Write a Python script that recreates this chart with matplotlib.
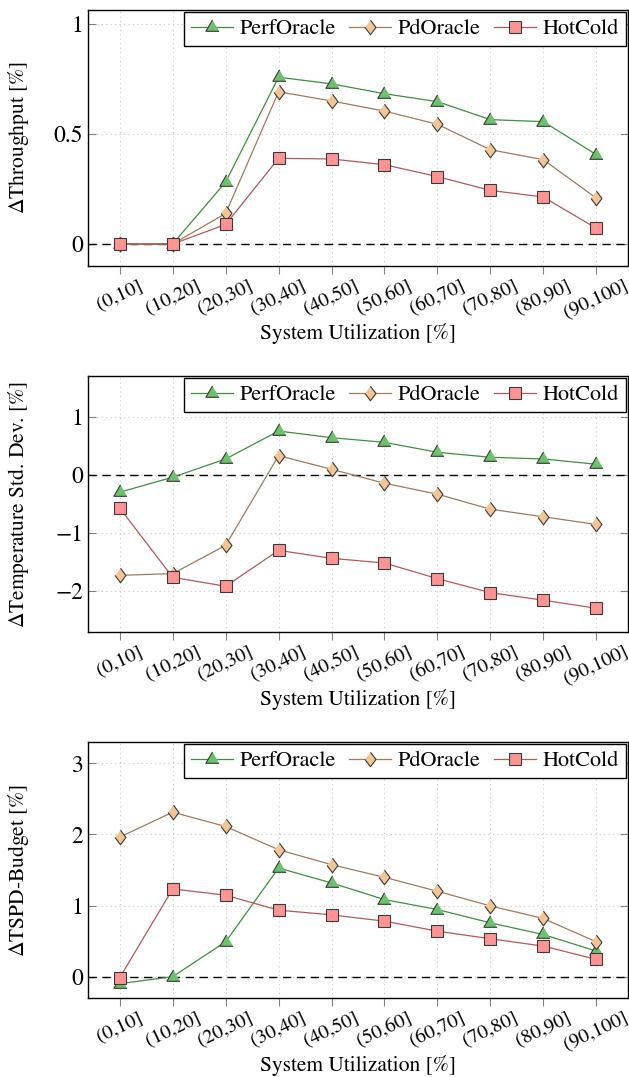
import numpy as np
import matplotlib
matplotlib.use("Agg")
import matplotlib.pyplot as plt

plt.rcParams['font.family'] = ['STIXGeneral', 'DejaVu Serif']
plt.rcParams['mathtext.fontset'] = 'stix'

categories = ['(0,10]', '(10,20]', '(20,30]', '(30,40]', '(40,50]',
              '(50,60]', '(60,70]', '(70,80]', '(80,90]', '(90,100]']

# Throughput
thr_perf = [0.0, 0.0, 0.282, 0.759, 0.729, 0.684, 0.648, 0.566, 0.557, 0.407]
thr_pd = [0.0, 0.0, 0.139, 0.693, 0.651, 0.605, 0.545, 0.429, 0.384, 0.209]
thr_hc = [0.0, 0.0, 0.089, 0.390, 0.387, 0.361, 0.307, 0.244, 0.214, 0.072]

# Temperature std. dev.
tmp_perf = [-0.297, -0.04, 0.274, 0.754, 0.640, 0.560, 0.389, 0.303, 0.274, 0.183]
tmp_pd = [-1.726, -1.697, -1.211, 0.331, 0.097, -0.143, -0.331, -0.589, -0.720, -0.851]
tmp_hc = [-0.571, -1.760, -1.914, -1.297, -1.434, -1.514, -1.783, -2.023, -2.154, -2.291]

# TSPD budget
tspd_perf = [-0.098, 0.0, 0.490, 1.528, 1.318, 1.084, 0.944, 0.757, 0.593, 0.360]
tspd_pd = [1.963, 2.313, 2.112, 1.785, 1.575, 1.397, 1.201, 0.995, 0.818, 0.490]
tspd_hc = [-0.014, 1.234, 1.145, 0.935, 0.869, 0.780, 0.640, 0.533, 0.430, 0.243]

panels = [
    (r'$\Delta$Throughput [%]', thr_perf, thr_pd, thr_hc, (-0.1, 1.065), [0, 0.5, 1], ['0', '0.5', '1']),
    (r'$\Delta$Temperature Std. Dev. [%]', tmp_perf, tmp_pd, tmp_hc, (-2.7, 1.7), [-2, -1, 0, 1], None),
    (r'$\Delta$TSPD-Budget [%]', tspd_perf, tspd_pd, tspd_hc, (-0.3, 3.3), [0, 1, 2, 3], None),
]

# axes boxes in pixels (top, bottom)
boxes = [(10, 266), (376, 632), (742, 998)]
W, H = 629, 1077

fig = plt.figure(figsize=(W / 100, H / 100), dpi=100)
x = np.arange(len(categories))

# pgfplots-like marker shapes
tri = [(0, 1), (-0.866, -0.5), (0.866, -0.5)]
dia = [(0, 1), (0.75, 0), (0, -1), (-0.75, 0)]

styles = [
    ('PerfOracle', tri, '#3f8f3f', '#6cc16c', 11),
    ('PdOracle', dia, '#a07a5c', '#f2c597', 10.5),
    ('HotCold', 's', '#b05a5a', '#ff9494', 8.2),
]

for (ylabel, s1, s2, s3, ylim, yticks, ytl), (top, bot) in zip(panels, boxes):
    ax = fig.add_axes([88 / W, 1 - bot / H, (628 - 88) / W, (bot - top) / H])
    ax.axhline(0, color='black', linestyle=(0, (6, 4)), linewidth=1.0, zorder=1)
    for (name, mk, lc, fc, ms), ys in zip(styles, [s1, s2, s3]):
        ax.plot(x, ys, color=lc, linewidth=0.9, marker=mk, markersize=ms,
                markerfacecolor=fc, markeredgecolor='#3a3a3a', markeredgewidth=0.8,
                label=name, zorder=3)
    ax.set_xlim(-0.6, 9.6)
    ax.set_ylim(*ylim)
    ax.set_yticks(yticks)
    if ytl:
        ax.set_yticklabels(ytl)
    ax.set_xticks(x)
    ax.set_xticklabels(categories, rotation=25, ha='center', fontsize=14.5)
    ax.tick_params(axis='y', direction='in', right=True, length=6, color='gray', labelsize=17)
    ax.tick_params(axis='x', direction='out', length=6, color='gray', pad=2)
    ax.grid(True, linestyle=(0, (1, 3)), color='#c8c8c8', linewidth=0.8)
    ax.set_axisbelow(True)
    for sp in ax.spines.values():
        sp.set_linewidth(1.0)
    ax.set_ylabel(ylabel, fontsize=15.5)
    ax.yaxis.set_label_coords(-0.105, 0.5)
    ax.set_xlabel('System Utilization [%]', fontsize=15.5, labelpad=1)
    leg = ax.legend(loc='upper right', ncol=3, fontsize=16, frameon=True, fancybox=False,
                    edgecolor='black', borderaxespad=0.1, handlelength=1.9,
                    columnspacing=0.6, handletextpad=0.3, borderpad=0.3)
    leg.get_frame().set_linewidth(1.0)
    leg.get_frame().set_alpha(1)

fig.savefig('out.png', dpi=100)
